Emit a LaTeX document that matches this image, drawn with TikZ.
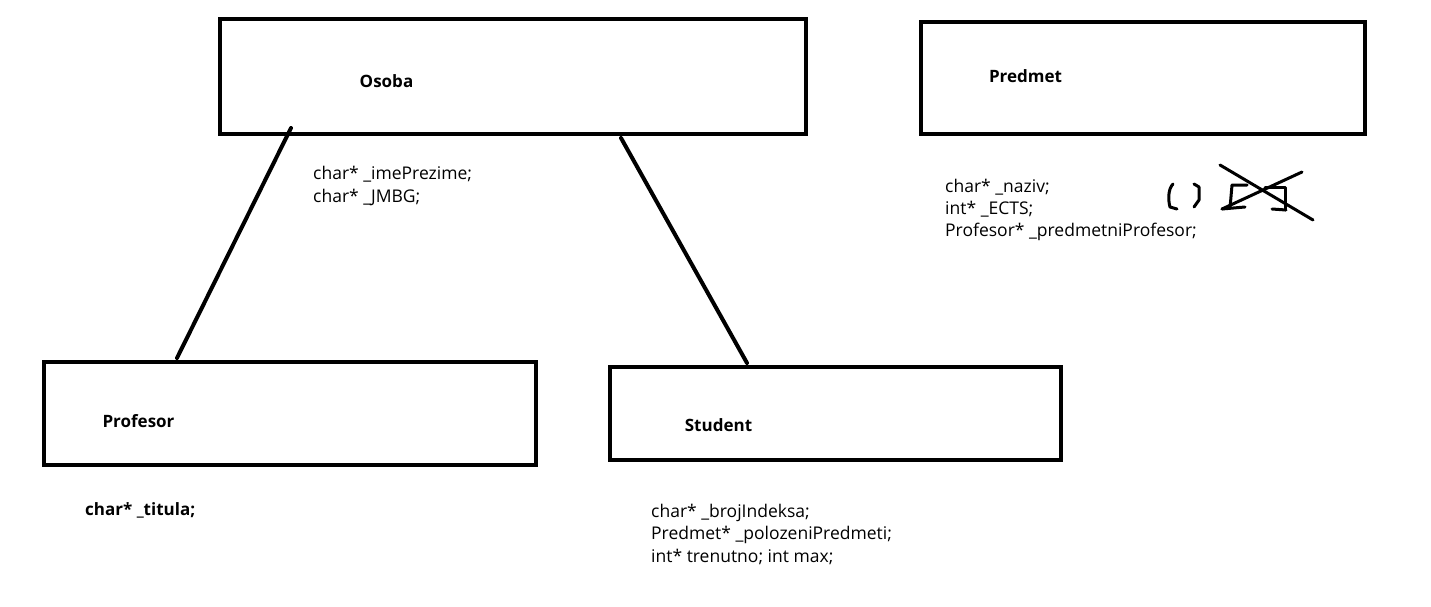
\documentclass[tikz,border=0pt]{standalone}
\usepackage{fontspec}
\setmainfont{Open Sans}
\begin{document}
\begin{tikzpicture}[x=1pt,y=-1pt,
  cls/.style={draw=black,line width=4pt,rectangle,inner sep=0pt},
  title/.style={anchor=base,font=\fontsize{17}{20}\selectfont\bfseries,inner sep=0pt},
  attr/.style={anchor=base west,font=\fontsize{17.5}{21}\selectfont,inner sep=0pt},
  battr/.style={anchor=base west,font=\fontsize{17}{21}\selectfont\bfseries,inner sep=0pt},
  link/.style={line width=4pt,line cap=round},
  scrib/.style={line width=3pt,line cap=round,line join=round}]
\useasboundingbox (0,0) rectangle (1431,607);
% class boxes
\node[cls,minimum width=586.5pt,minimum height=114.5pt] (osoba) at (512.75,76.25) {};
\node[cls,minimum width=444pt,minimum height=112pt] (predmet) at (1142.5,78) {};
\node[cls,minimum width=491.5pt,minimum height=103pt] (profesor) at (289.75,413.5) {};
\node[cls,minimum width=451.5pt,minimum height=93pt] (student) at (835.25,413) {};
% titles
\node[title] (tosoba) at (386.5,88) {Osoba};
\node[title] (tpredmet) at (1025.5,83) {Predmet};
\node[title] (tprofesor) at (138.5,427) {Profesor};
\node[title] (tstudent) at (718.5,431) {Student};
% attributes
\node[attr] (o1) at (313,179) {char* \_imePrezime;};
\node[attr] (o2) at (313,202) {char* \_JMBG;};
\node[attr] (pr1) at (945,192) {char* \_naziv;};
\node[attr] (pr2) at (945,214) {int* \_ECTS;};
\node[attr] (pr3) at (945,236) {Profesor* \_predmetniProfesor;};
\node[battr] (pf1) at (85,515) {char* \_titula;};
\node[attr] (s1) at (651,517) {char* \_brojIndeksa;};
\node[attr] (s2) at (651,539.5) {Predmet* \_polozeniPredmeti;};
\node[attr] (s3) at (651,562) {int* trenutno; int max;};
% connectors
\coordinate (osobaL) at (291,128);
\coordinate (profTop) at (177,358);
\coordinate (osobaR) at (621,138);
\coordinate (studTop) at (747,363);
\draw[link] (osobaL) -- (profTop);
\draw[link] (osobaR) -- (studTop);
% scribbles near Predmet
\draw[scrib] (1173,184) .. controls (1168,189) and (1168,200) .. (1170,207) -- (1177,209);
\draw[scrib] (1194,184) -- (1199,187) -- (1199,200) -- (1194,207);
\draw[scrib] (1247,185) -- (1232,185) -- (1230,208);
\draw[scrib] (1265,187) -- (1285,187) -- (1285,210);
\draw[scrib] (1272,209) -- (1286,210);
\draw[scrib] (1222,209) -- (1245,207);
\draw[scrib] (1220,165) -- (1313,220);
\draw[scrib] (1222,209) -- (1302,172);
\end{tikzpicture}
\end{document}
